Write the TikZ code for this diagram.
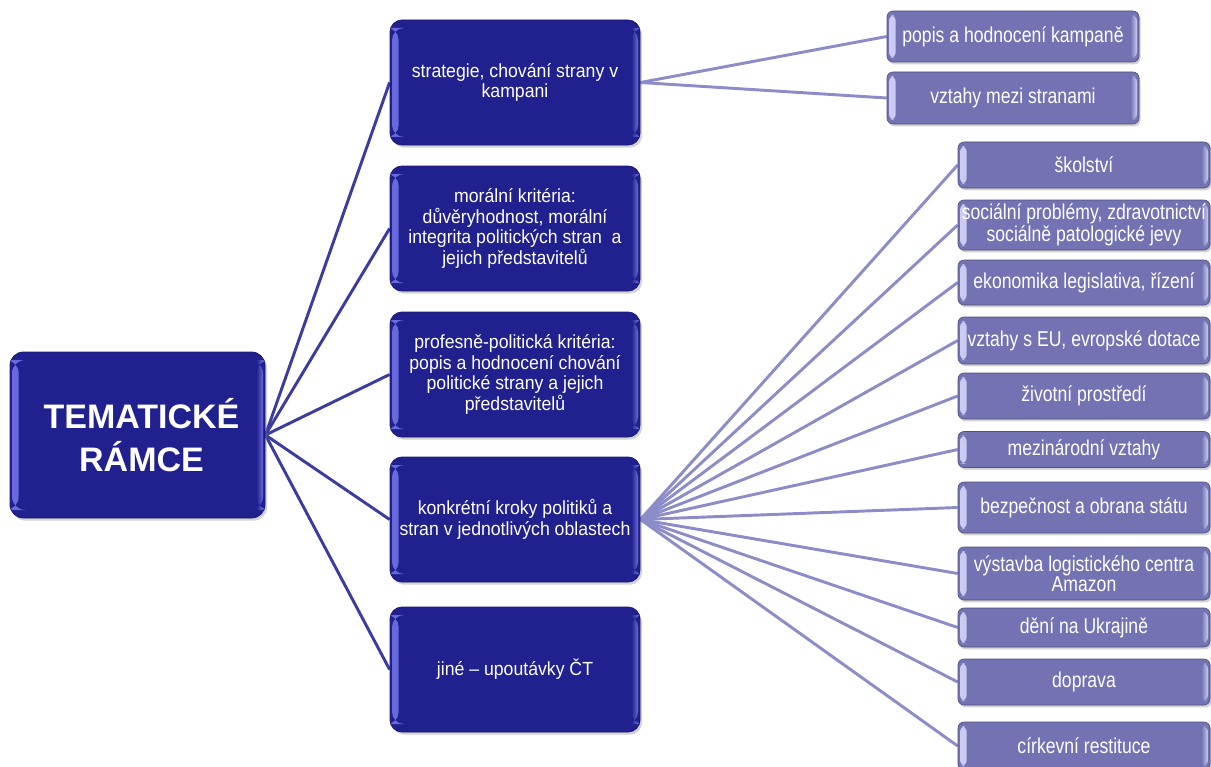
\documentclass[tikz,border=0pt]{standalone}
\usepackage{fontspec}
\setmainfont{Liberation Sans}
\newfontfamily\rootfont{Liberation Sans}
\newfontfamily\lvonefont[FakeStretch=0.93]{Liberation Sans}
\newfontfamily\lvtwofont[FakeStretch=0.82]{Liberation Sans}
\usetikzlibrary{shadows,backgrounds}
\definecolor{navymain}{HTML}{20208E}
\definecolor{navyedge}{HTML}{6A6AE0}
\definecolor{lavmain}{HTML}{7373B3}
\definecolor{lavedge}{HTML}{CCCCF4}
\definecolor{lineone}{HTML}{3C3CA0}
\definecolor{linetwo}{HTML}{8C8CC8}
\tikzset{
  hh/.style={minimum height=#1*0.75pt},
  edges/.style n args={3}{path picture={
    \path[left color=#1, right color=#2]
      ([xshift=1.5pt,yshift=-#3]path picture bounding box.north west) rectangle
      ([xshift=6.5pt,yshift=#3]path picture bounding box.south west);
    \path[left color=#2, right color=#1]
      ([xshift=-6.5pt,yshift=-#3]path picture bounding box.north east) rectangle
      ([xshift=-1.5pt,yshift=#3]path picture bounding box.south east);
  }},
  rootbox/.style={fill=navymain, draw=navymain!80!black, line width=0.6pt, rounded corners=10pt,
    edges={navyedge}{navymain}{6pt},
    minimum width=191.25pt, minimum height=124.5pt, inner sep=0pt, align=center, text=white,
    font=\rootfont\bfseries\fontsize{25.5}{32}\selectfont,
    drop shadow={shadow xshift=1.5pt, shadow yshift=-2pt, opacity=0.35}},
  onebox/.style={fill=navymain, draw=navymain!80!black, line width=0.6pt, rounded corners=9pt,
    edges={navyedge}{navymain}{6pt},
    minimum width=187.5pt, minimum height=93.75pt, inner sep=0pt, align=center, text=white,
    font=\lvonefont\fontsize{14.25}{15.4}\selectfont,
    drop shadow={shadow xshift=1.5pt, shadow yshift=-2pt, opacity=0.35}},
  twobox/.style={fill=lavmain, draw=lavmain!70!black, line width=0.5pt, rounded corners=4.5pt,
    edges={lavedge}{lavmain}{3pt},
    minimum width=189pt, inner xsep=0pt, inner ysep=0pt, align=center, text=white,
    font=\lvtwofont\fontsize{16.1}{15}\selectfont,
    drop shadow={shadow xshift=1.2pt, shadow yshift=-1.8pt, opacity=0.35}},
  linkone/.style={draw=lineone, line width=2.2pt},
  linktwo/.style={draw=linetwo, line width=2.2pt}
}
\begin{document}
\begin{tikzpicture}[x=0.75pt,y=-0.75pt]
\useasboundingbox (0,0) rectangle (1211,767);
% root
\node[rootbox] (root) at (137.5,435) {\hspace*{6pt}TEMATICKÉ\\\hspace*{6pt}RÁMCE};
% level one
\node[onebox] (strat) at (515,82.5) {strategie, chování strany v\\kampani};
\node[onebox] (moral) at (515,228.5) {morální kritéria:\\důvěryhodnost, morální\\integrita politických stran\ \ a\\jejich představitelů};
\node[onebox] (prof) at (515,374.5) {profesně-politická kritéria:\\popis a hodnocení chování\\politické strany a jejich\\představitelů};
\node[onebox] (konk) at (515,519.5) {konkrétní kroky politiků a\\stran v jednotlivých oblastech};
\node[onebox] (jine) at (515,669.5) {jiné – upoutávky ČT};
% level two under strategie
\node[twobox,hh=51] (popis) at (1013,36.5) {popis a hodnocení kampaně};
\node[twobox,hh=52] (vztahy) at (1013,98) {vztahy mezi stranami};
% level two under konkretni
\node[twobox,hh=46] (skol) at (1084,165) {školství};
\node[twobox,hh=50] (soc) at (1084,225) {sociální problémy, zdravotnictví\\sociálně patologické jevy};
\node[twobox,hh=45] (ekon) at (1084,282.5) {ekonomika legislativa, řízení};
\node[twobox,hh=47] (eu) at (1084,340.5) {vztahy s EU,\ evropské dotace};
\node[twobox,hh=46] (ziv) at (1084,396) {životní prostředí};
\node[twobox,hh=36] (mezi) at (1084,449.5) {mezinárodní vztahy};
\node[twobox,hh=51] (bezp) at (1084,507.5) {bezpečnost a obrana státu};
\node[twobox,hh=53] (vyst) at (1084,573.5) {výstavba logistického centra\\Amazon};
\node[twobox,hh=39] (deni) at (1084,627.5) {dění na Ukrajině};
\node[twobox,hh=46] (dopr) at (1084,682) {doprava};
\node[twobox,hh=48] (cirk) at (1084,746) {církevní restituce};
\begin{scope}[on background layer]
\foreach \t in {strat,moral,prof,konk,jine}{
  \draw[linkone] (root.east) -- (\t.west);
}
\foreach \t in {popis,vztahy}{
  \draw[linktwo] (strat.east) -- (\t.west);
}
\foreach \t in {skol,soc,ekon,eu,ziv,mezi,bezp,vyst,deni,dopr,cirk}{
  \draw[linktwo] (konk.east) -- (\t.west);
}
\end{scope}
\end{tikzpicture}
\end{document}
